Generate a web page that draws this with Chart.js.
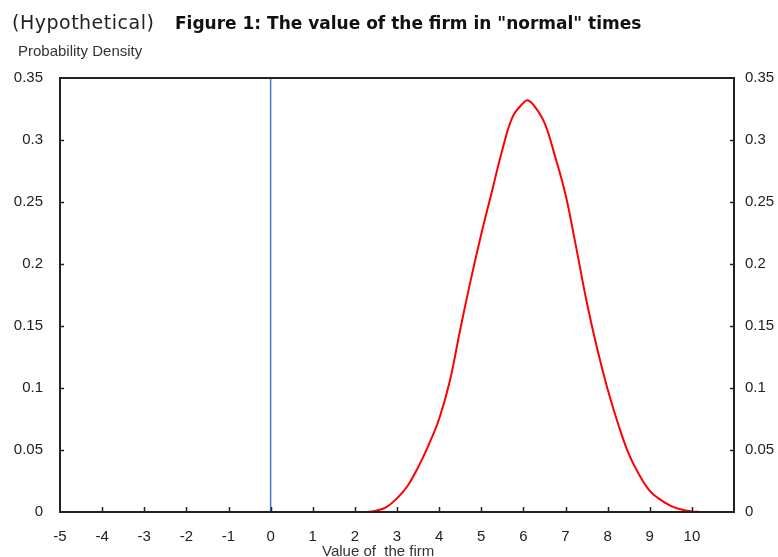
<!DOCTYPE html>
<html>
<head>
<meta charset="utf-8">
<script src="https://cdn.jsdelivr.net/npm/chart.js@4.4.1/dist/chart.umd.min.js"></script>
<style>
  body { margin: 0; background: #fff; }
  #wrap { position: relative; width: 778px; height: 557px; }
</style>
</head>
<body>
<div id="wrap"><canvas id="myChart" width="778" height="557"></canvas></div>
<script>
// values
const curveX = [2, 2.25, 2.5, 2.75, 3, 3.25, 3.5, 3.75, 4, 4.25, 4.5, 4.75, 5, 5.25, 5.5, 5.75, 6, 6.1, 6.25, 6.5, 6.75, 7, 7.25, 7.5, 7.75, 8, 8.25, 8.5, 8.75, 9, 9.25, 9.5, 9.75, 10, 10.2];
const curveY = [0, 0, 0.001, 0.004, 0.011, 0.021, 0.036, 0.054, 0.075, 0.105, 0.147, 0.187, 0.224, 0.258, 0.292, 0.319, 0.330, 0.332, 0.328, 0.314, 0.287, 0.256, 0.214, 0.170, 0.132, 0.099, 0.071, 0.047, 0.030, 0.017, 0.010, 0.005, 0.002, 0.0005, 0];
const zeroX = [0, 0];
const zeroY = [0, 0.35];

const xMin = -5;
const xMax = 11;
const xLastLabel = 10;
const yMin = 0;
const yMax = 0.35;
const yStep = 0.05;

const leftTitle = '(Hypothetical)';
const mainTitle = 'Figure 1: The value of the firm in "normal" times';
const yTitle = 'Probability Density';
const xTitle = 'Value of  the firm';

function toPoints(xs, ys) {
  return xs.map((x, i) => ({ x: x, y: ys[i] }));
}

function fmtY(v) {
  return Number(v.toFixed(2)).toString();
}

const framePlugin = {
  id: 'frame',
  afterDraw(chart) {
    const { ctx, chartArea: a, scales } = chart;
    ctx.save();
    ctx.strokeStyle = '#222';
    ctx.lineWidth = 2;
    ctx.strokeRect(a.left, a.top, a.right - a.left, a.bottom - a.top);

    // inward tick marks
    ctx.lineWidth = 1.5;
    ctx.beginPath();
    scales.x.ticks.forEach((t) => {
      if (t.value <= xMin || t.value >= xMax) { return; }
      const px = Math.round(scales.x.getPixelForValue(t.value)) + 0.5;
      ctx.moveTo(px, a.bottom);
      ctx.lineTo(px, a.bottom - 5);
    });
    scales.y.ticks.forEach((t) => {
      if (t.value <= yMin || t.value >= yMax - 1e-9) { return; }
      const py = Math.round(scales.y.getPixelForValue(t.value)) + 0.5;
      ctx.moveTo(a.left, py);
      ctx.lineTo(a.left + 4, py);
      ctx.moveTo(a.right, py);
      ctx.lineTo(a.right - 4, py);
    });
    ctx.stroke();

    // titles
    ctx.fillStyle = '#222';
    ctx.textBaseline = 'alphabetic';
    ctx.textAlign = 'left';
    ctx.font = '19px "DejaVu Sans"';
    ctx.letterSpacing = '0.5px';
    ctx.fillText(leftTitle, 12, 29);
    ctx.letterSpacing = '0px';
    ctx.font = 'bold 17px "DejaVu Sans"';
    ctx.fillStyle = '#111';
    ctx.fillText(mainTitle, 175, 29);
    ctx.fillStyle = '#333';
    ctx.font = '15px "Liberation Sans"';
    ctx.fillText(yTitle, 18, 56);
    ctx.fillText(xTitle, 322, 556);
    ctx.restore();
  }
};

function initChart(target) {
  const tickFont = { family: 'Liberation Sans', size: 15 };

  const data = {
    datasets: [
      {
        label: 'Value of the firm',
        data: toPoints(curveX, curveY),
        borderColor: 'rgb(255, 0, 0)',
        borderWidth: 2,
        pointRadius: 0,
        tension: 0.4,
        fill: false
      },
      {
        label: 'Zero',
        data: toPoints(zeroX, zeroY),
        borderColor: 'rgb(70, 120, 205)',
        borderWidth: 1.5,
        pointRadius: 0,
        fill: false
      }
    ]
  };

  const config = {
    type: 'line',
    data: data,
    plugins: [framePlugin],
    options: {
      responsive: false,
      animation: false,
      devicePixelRatio: 1,
      layout: { padding: { top: 78, left: 0, right: 0, bottom: 0 } },
      plugins: {
        legend: { display: false },
        tooltip: { enabled: false }
      },
      scales: {
        x: {
          type: 'linear',
          position: 'bottom',
          min: xMin,
          max: xMax,
          grid: { display: false },
          border: { display: false },
          ticks: {
            stepSize: 1,
            autoSkip: false,
            maxRotation: 0,
            padding: 8,
            color: '#222',
            font: tickFont,
            callback: (v) => (v > xLastLabel ? '' : v)
          },
          afterFit: (scale) => { scale.height = 45; }
        },
        y: {
          position: 'left',
          min: yMin,
          max: yMax,
          grid: { display: false },
          border: { display: false },
          ticks: {
            stepSize: yStep,
            padding: 9,
            color: '#222',
            font: tickFont,
            callback: (v) => fmtY(v)
          },
          afterFit: (scale) => { scale.width = 60; }
        },
        y2: {
          position: 'right',
          min: yMin,
          max: yMax,
          grid: { display: false },
          border: { display: false },
          ticks: {
            stepSize: yStep,
            padding: 3,
            color: '#222',
            font: tickFont,
            callback: (v) => fmtY(v)
          },
          afterFit: (scale) => { scale.width = 44; }
        }
      }
    }
  };

  return new Chart(target, config);
}

document.addEventListener('DOMContentLoaded', () => {
  initChart(document.querySelector('#myChart'));
});
</script>
</body>
</html>
